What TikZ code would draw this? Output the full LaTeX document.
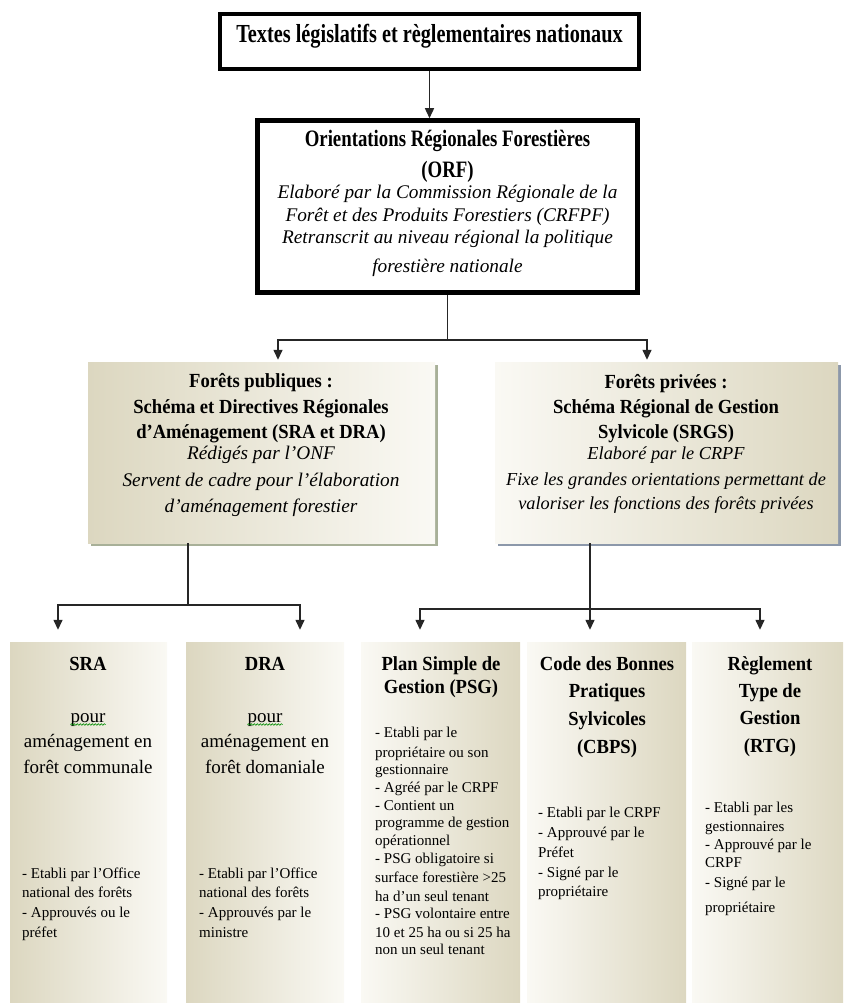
\documentclass[tikz,border=0pt]{standalone}
\usepackage{fontspec}
\setmainfont{Liberation Serif}
\newfontfamily\fTop{Liberation Serif}[FakeStretch=0.78]
\newfontfamily\fOrf{Liberation Serif}[FakeStretch=0.8]
\newfontfamily\fHead{Liberation Serif}[FakeStretch=0.93]
\usetikzlibrary{arrows.meta,shadows,decorations.pathmorphing}
\definecolor{tanD}{RGB}{220,215,192}
\definecolor{tanL}{RGB}{250,249,244}
\definecolor{shPub}{RGB}{168,176,152}
\definecolor{shPriv}{RGB}{140,152,170}
\tikzset{
  ln/.style={line width=1.4pt, draw=black!85},
  arr/.style={ln, -{Triangle[width=9pt,length=10pt]}},
  bigbox/.style={draw=black, fill=white, inner sep=0pt},
  darkleft/.style={left color=tanD, right color=tanL, inner sep=0pt},
  darkright/.style={left color=tanL, right color=tanD, inner sep=0pt},
  txt/.style={anchor=base, inner sep=0pt},
  ttop/.style={txt, font=\fTop\bfseries\fontsize{26}{30}\selectfont},
  torf/.style={txt, font=\fOrf\bfseries\fontsize{23.5}{28}\selectfont},
  tit/.style={txt, font=\itshape\fontsize{19.3}{23}\selectfont},
  titb/.style={txt, font=\itshape\fontsize{18.3}{22}\selectfont},
  thead/.style={txt, font=\fHead\bfseries\fontsize{20}{24}\selectfont},
  treg/.style={txt, font=\fontsize{19}{23}\selectfont},
  tsm/.style={anchor=base west, inner sep=0pt, font=\fontsize{15}{18}\selectfont},
  spell/.style={draw=green!55!black, line width=0.6pt, decorate,
    decoration={snake, amplitude=0.8pt, segment length=3pt}}
}
\begin{document}
\begin{tikzpicture}[x=1pt,y=-1pt]
\useasboundingbox (0,0) rectangle (843,1003);
\clip (0,0) rectangle (843,1003);

% ---------- boxes ----------
\node[bigbox, line width=4pt, minimum width=419pt, minimum height=55pt] (top) at (429.5,41.5) {};
\node[bigbox, line width=4.5pt, minimum width=380pt, minimum height=172pt] (orf) at (447.5,206.5) {};
\node[darkleft, general shadow={fill=shPub, shadow xshift=3pt, shadow yshift=-3pt},
      minimum width=347pt, minimum height=181pt] (pub) at (261.5,452.5) {};
\node[darkright, general shadow={fill=shPriv, shadow xshift=3pt, shadow yshift=-3pt},
      minimum width=343pt, minimum height=181pt] (priv) at (666.5,452.5) {};
\node[darkleft, minimum width=157pt, minimum height=368pt] (sra) at (88.5,826) {};
\node[darkleft, minimum width=158pt, minimum height=368pt] (dra) at (265,826) {};
\node[darkright, minimum width=159pt, minimum height=368pt] (psg) at (440.5,826) {};
\node[darkright, minimum width=159pt, minimum height=368pt] (cbps) at (606.5,826) {};
\node[darkright, minimum width=158pt, minimum height=368pt] (rtg) at (771,826) {};

% ---------- connectors ----------
\draw[arr] (top.south) -- (top.south |- orf.north);
\coordinate (j1) at (447.5,340);
\draw[ln] (orf.south) -- (j1);
\draw[arr] (j1) -| ([xshift=16.5pt,yshift=2pt]pub.north);
\draw[arr] (j1) -| ([xshift=-19.5pt,yshift=2pt]priv.north);

\coordinate (j2) at (188,605);
\draw[ln] ([xshift=-73.5pt]pub.south) -- (j2);
\draw[arr] (j2) -| ([xshift=-30.5pt,yshift=12pt]sra.north);
\draw[arr] (j2) -| ([xshift=35pt,yshift=12pt]dra.north);

\coordinate (j3) at (590,609);
\draw[arr] ([xshift=-76.5pt]priv.south) -- ([xshift=-16.5pt,yshift=12pt]cbps.north);
\draw[arr] (j3) -| ([xshift=-20.5pt,yshift=12pt]psg.north);
\draw[arr] (j3) -| ([xshift=-11pt,yshift=12pt]rtg.north);

% ---------- texts ----------
\node[ttop] (topT) at (429.5,43) {Textes législatifs et règlementaires nationaux};

\node[torf] (orfT1) at (447.5,147) {Orientations Régionales Forestières};
\node[torf] (orfT2) at (447.5,178) {(ORF)};
\node[tit] (orfI1) at (447.5,198) {Elaboré par la Commission Régionale de la};
\node[tit] (orfI2) at (447.5,221) {Forêt et des Produits Forestiers (CRFPF)};
\node[tit] (orfI3) at (447.5,243) {Retranscrit au niveau régional la politique};
\node[tit] (orfI4) at (447.5,272) {forestière nationale};

\node[thead] (pubH1) at (261,387) {Forêts publiques :};
\node[thead] (pubH2) at (261,413) {Schéma et Directives Régionales};
\node[thead] (pubH3) at (261,438) {d’Aménagement (SRA et DRA)};
\node[tit] (pubI1) at (261,459) {Rédigés par l’ONF};
\node[tit] (pubI2) at (261,486) {Servent de cadre pour l’élaboration};
\node[tit] (pubI3) at (261,512) {d’aménagement forestier};

\node[thead] (privH1) at (666,388) {Forêts privées :};
\node[thead] (privH2) at (666,413) {Schéma Régional de Gestion};
\node[thead] (privH3) at (666,438) {Sylvicole (SRGS)};
\node[titb] (privI1) at (666,459) {Elaboré par le CRPF};
\node[titb] (privI2) at (666,485) {Fixe les grandes orientations permettant de};
\node[titb] (privI3) at (666,509) {valoriser les fonctions des forêts privées};

% SRA
\node[thead] (sraH) at (88,670) {SRA};
\node[treg] (sraP) at (88,722) {pour};
\node[treg] (sraR1) at (88,747) {aménagement en};
\node[treg] (sraR2) at (88,773) {forêt communale};
\draw[spell] ([yshift=-2.5pt]sraP.base west) -- ([yshift=-2.5pt]sraP.base east);
\foreach \t/\y [count=\i] in {{- Etabli par l’Office}/878,{national des forêts}/897,{- Approuvés ou le}/917,{préfet}/937}
  \node[tsm] (sraS\i) at (22,\y) {\t};

% DRA
\node[thead] (draH) at (265,670) {DRA};
\node[treg] (draP) at (265,722) {pour};
\node[treg] (draR1) at (265,747) {aménagement en};
\node[treg] (draR2) at (265,773) {forêt domaniale};
\draw[spell] ([yshift=-2.5pt]draP.base west) -- ([yshift=-2.5pt]draP.base east);
\foreach \t/\y [count=\i] in {{- Etabli par l’Office}/878,{national des forêts}/897,{- Approuvés par le}/917,{ministre}/937}
  \node[tsm] (draS\i) at (199,\y) {\t};

% PSG
\node[thead] (psgH1) at (441,670) {Plan Simple de};
\node[thead] (psgH2) at (441,693) {Gestion (PSG)};
\foreach \t/\y [count=\i] in {{- Etabli par le}/737,{propriétaire ou son}/757,{gestionnaire}/774,
  {- Agréé par le CRPF}/792,{- Contient un}/810,{programme de gestion}/827,{opérationnel}/845,
  {- PSG obligatoire si}/863,{surface forestière >25}/882,{ha d’un seul tenant}/901,
  {- PSG volontaire entre}/918,{10 et 25 ha ou si 25 ha}/937,{non un seul tenant}/954}
  \node[tsm] (psgS\i) at (375,\y) {\t};

% CBPS
\node[thead] (cbpsH1) at (607,670) {Code des Bonnes};
\node[thead] (cbpsH2) at (607,697) {Pratiques};
\node[thead] (cbpsH3) at (607,725) {Sylvicoles};
\node[thead] (cbpsH4) at (607,753) {(CBPS)};
\foreach \t/\y [count=\i] in {{- Etabli par le CRPF}/817,{- Approuvé par le}/837,{Préfet}/857,
  {- Signé par le}/877,{propriétaire}/896}
  \node[tsm] (cbpsS\i) at (538,\y) {\t};

% RTG
\node[thead] (rtgH1) at (770,670) {Règlement};
\node[thead] (rtgH2) at (770,697) {Type de};
\node[thead] (rtgH3) at (770,724) {Gestion};
\node[thead] (rtgH4) at (770,752) {(RTG)};
\foreach \t/\y [count=\i] in {{- Etabli par les}/812,{gestionnaires}/831,{- Approuvé par le}/849,
  {CRPF}/867,{- Signé par le}/887,{propriétaire}/912}
  \node[tsm] (rtgS\i) at (705,\y) {\t};
\end{tikzpicture}
\end{document}
